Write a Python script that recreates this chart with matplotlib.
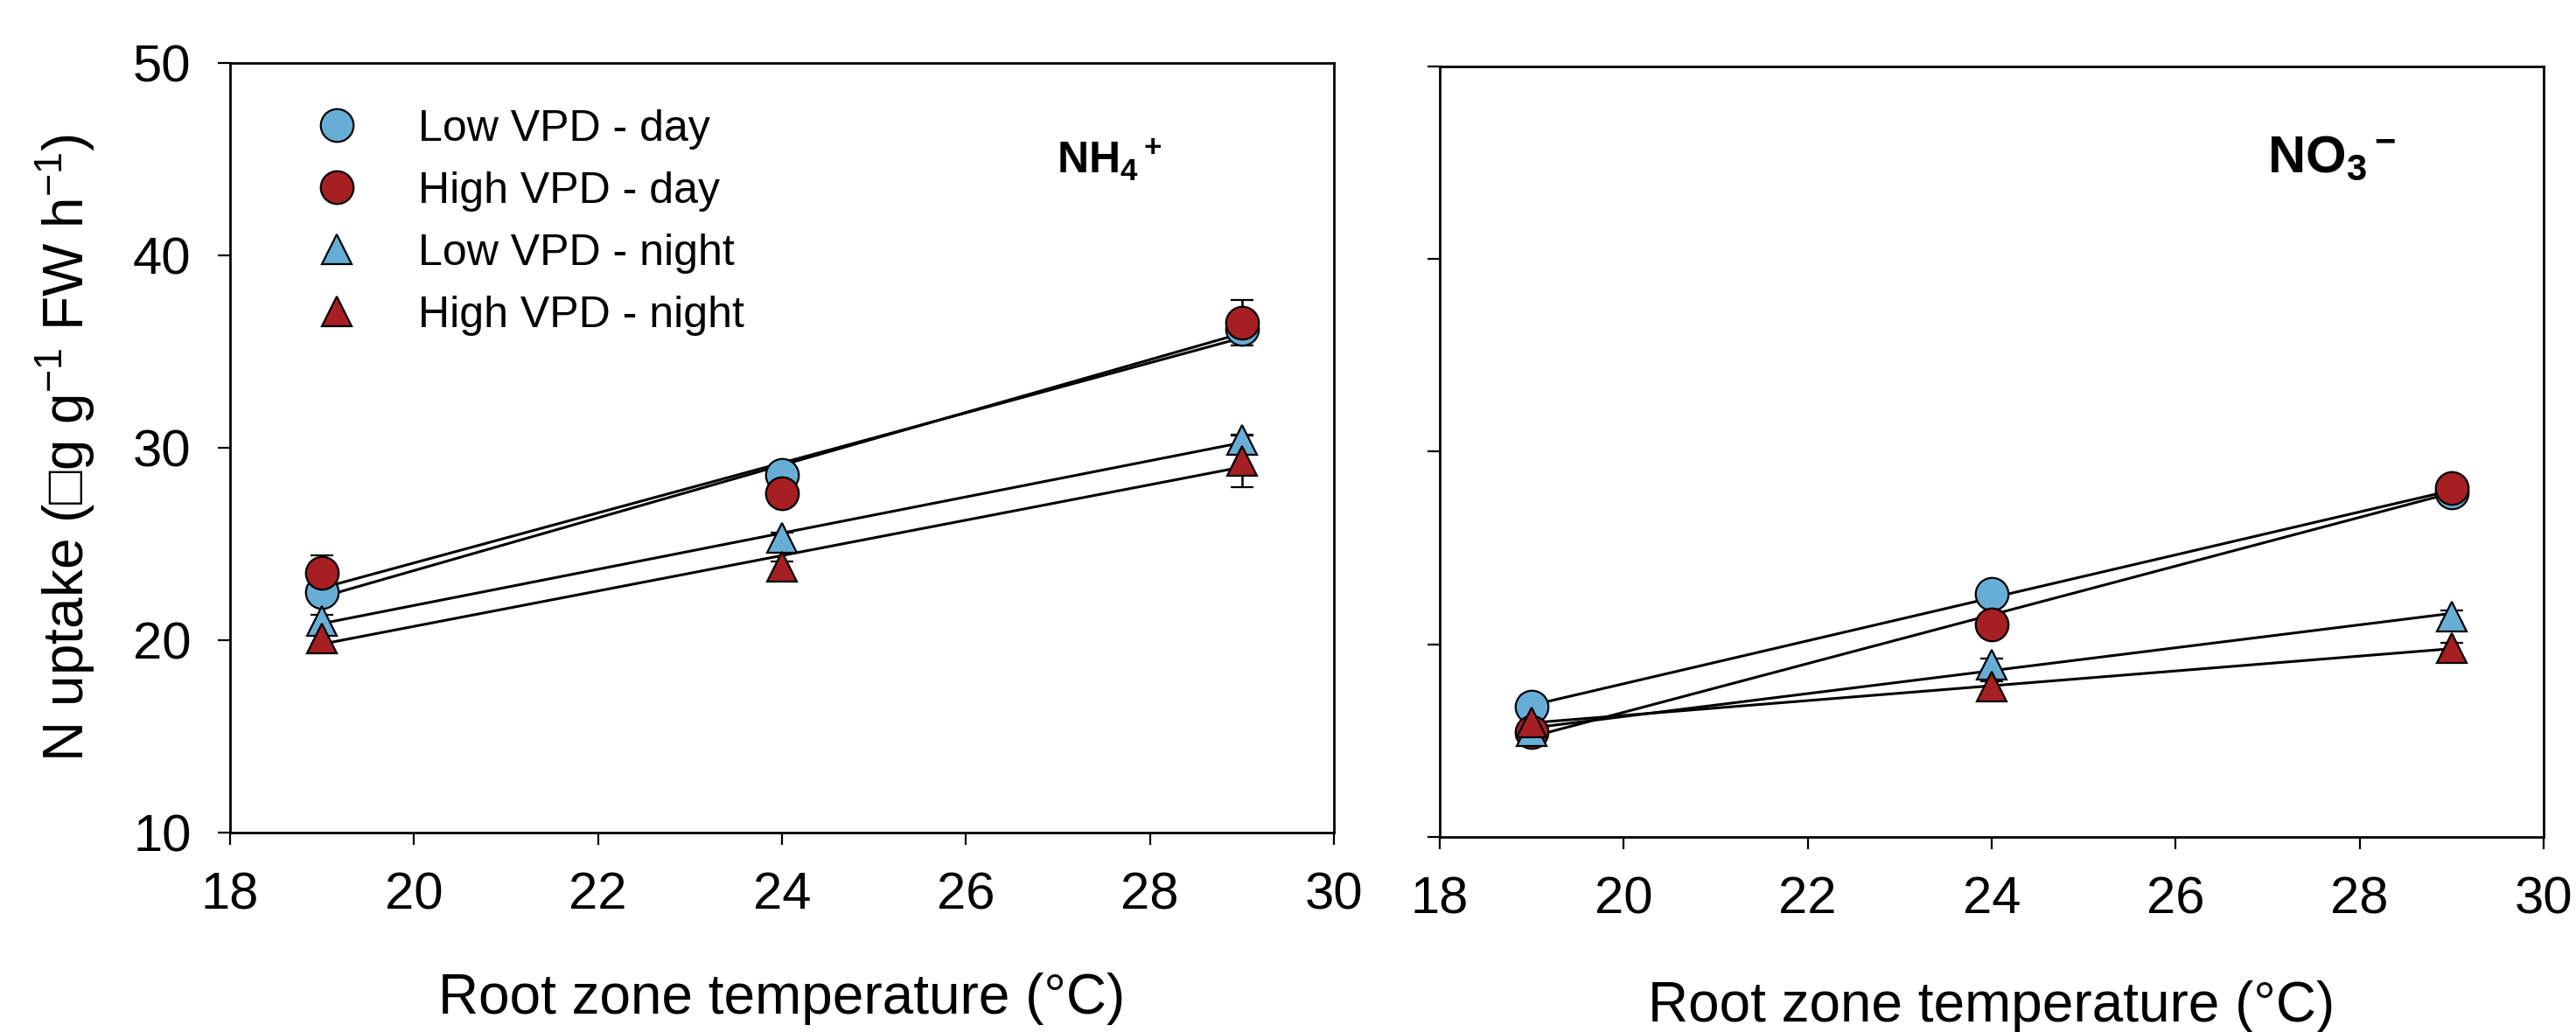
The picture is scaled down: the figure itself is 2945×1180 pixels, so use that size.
import numpy as np
import matplotlib
matplotlib.use('Agg')
import matplotlib.pyplot as plt

plt.rcParams['font.family'] = ['Liberation Sans', 'DejaVu Sans']
plt.rcParams['mathtext.fontset'] = 'custom'
plt.rcParams['mathtext.rm'] = 'Liberation Sans'
plt.rcParams['mathtext.bf'] = 'Liberation Sans:bold'
plt.rcParams['mathtext.it'] = 'Liberation Sans:italic'

# root zone temperatures (°C)
temps = [19, 24, 29]
series_labels = ['Low VPD - day', 'High VPD - day', 'Low VPD - night', 'High VPD - night']

# NH4+ uptake
nh4_low_day = [22.5, 28.6, 36.2]
nh4_high_day = [23.5, 27.65, 36.5]
nh4_low_night = [21.0, 25.3, 30.4]
nh4_high_night = [20.1, 23.8, 29.3]
nh4_low_day_err = [0.3, 0.3, 0.4]
nh4_high_day_err = [0.9, 0.3, 1.2]
nh4_low_night_err = [0.3, 0.3, 0.3]
nh4_high_night_err = [0.3, 0.3, 1.35]

# NO3- uptake
no3_low_day = [16.75, 22.6, 27.9]
no3_high_day = [15.45, 21.05, 28.1]
no3_low_night = [15.5, 18.95, 21.45]
no3_high_night = [15.95, 17.8, 19.8]
no3_low_day_err = [0.2, 0.2, 0.2]
no3_high_day_err = [0.2, 0.2, 0.2]
no3_low_night_err = [0.3, 0.3, 0.3]
no3_high_night_err = [0.3, 0.3, 0.3]

blue = '#67AED6'
red = '#A61F22'
styles = [(blue, 'o', 27), (red, 'o', 27), (blue, '^', 25), (red, '^', 25)]

W, H = 2945, 1180
fig = plt.figure(figsize=(W / 100, H / 100), dpi=100)
ax1 = fig.add_axes([263 / W, 1 - 952 / H, 1262 / W, 880 / H])
ax2 = fig.add_axes([1646 / W, 1 - 957 / H, 1262 / W, 881 / H])


def draw_panel(ax, values, errors, show_ylabels):
    t = np.array(temps)
    # regression lines first
    for vals in values:
        k, b = np.polyfit(t, vals, 1)
        ax.plot(t[[0, -1]], k * t[[0, -1]] + b, color='black', lw=2.2, zorder=2)
    handles = []
    for vals, err, (c, m, ms), lab in zip(values, errors, styles, series_labels):
        h = ax.errorbar(t, vals, yerr=err, fmt=m, ms=ms, mfc=c, mec='black', mew=1.6,
                        ecolor='black', elinewidth=1.8, capsize=9.5, capthick=1.8,
                        label=lab, zorder=3)
        handles.append(h)
    ax.set_xlim(18, 30)
    ax.set_ylim(10, 50)
    ax.set_xticks([18, 20, 22, 24, 26, 28, 30])
    ax.set_yticks([10, 20, 30, 40, 50])
    ax.tick_params(direction='out', length=10, width=1.6, labelsize=43, pad=22,
                   labelleft=show_ylabels)
    for sp in ax.spines.values():
        sp.set_linewidth(2.0)
    ax.set_xlabel('Root zone temperature (°C)', fontsize=46)
    return handles


h1 = draw_panel(ax1, [nh4_low_day, nh4_high_day, nh4_low_night, nh4_high_night],
                [nh4_low_day_err, nh4_high_day_err, nh4_low_night_err, nh4_high_night_err], True)
draw_panel(ax2, [no3_low_day, no3_high_day, no3_low_night, no3_high_night],
           [no3_low_day_err, no3_high_day_err, no3_low_night_err, no3_high_night_err], False)

ax1.xaxis.set_label_coords(0.5, -0.182)
ax2.xaxis.set_label_coords(0.5, -0.186)

fig.text(75 / W, 1 - 512 / H, 'N uptake (□g g$^{-1}$ FW h$^{-1}$)', rotation=90,
         ha='center', va='center', fontsize=46)

leg = ax1.legend(handles=[h[0] for h in h1], labels=series_labels, loc='upper left',
                 bbox_to_anchor=(0.067, 0.94), frameon=False, fontsize=36,
                 handlelength=1.5, handletextpad=1.1, labelspacing=0.5,
                 borderpad=0, borderaxespad=0, numpoints=1)

fig.text(1208 / W, 1 - 198 / H, r'$\mathbf{NH_4{}^+}$', fontsize=36, va='baseline', ha='left')
fig.text(2592 / W, 1 - 197 / H, r'$\mathbf{NO_3{}^-}$', fontsize=43, va='baseline', ha='left')

fig.savefig('out.png', dpi=100)
